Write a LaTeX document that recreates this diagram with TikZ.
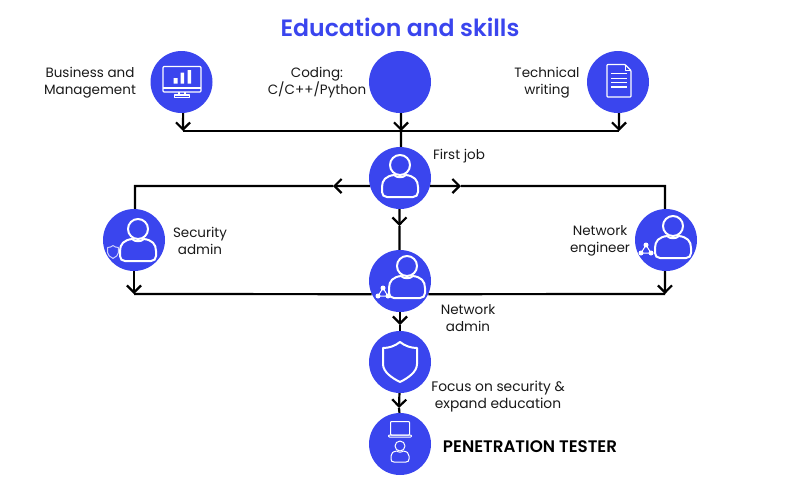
\documentclass[tikz,border=0pt]{standalone}
\usepackage{fontspec}
\setmainfont{Poppins}
\newfontface\semifont{Poppins SemiBold}
\usetikzlibrary{arrows.meta}
\definecolor{edublue}{HTML}{3A45EE}
\tikzset{
    >={Straight Barb[length=7pt,width=14pt]},
    disc/.style={circle,fill=edublue,minimum size=62pt,inner sep=0pt},
    wire/.style={line width=2.2pt,black},
    icon/.style={draw=white,line width=2pt,line join=round},
    thinicon/.style={draw=white,line width=1pt,line join=round},
    lbl/.style={align=center,font=\fontsize{13.5}{17}\selectfont,text=black!90,inner sep=0pt},
    person/.pic={
        \draw[icon] (0,-13) circle (10);
        \draw[icon] (-6,-3) .. controls (-14,-2) and (-18,2) .. (-18,9) -- (-18,14) .. controls (-18,17) and (-16,19) .. (-13,19) -- (13,19) .. controls (16,19) and (18,17) .. (18,14) -- (18,9) .. controls (18,2) and (14,-2) .. (6,-3) .. controls (3,0) and (-3,0) .. (-6,-3) -- cycle;
    },
    shield/.pic={
        \draw[pic actions] (0,-20) .. controls (-5,-16) and (-11,-14) .. (-17,-14) -- (-17,2) .. controls (-17,10) and (-8,16) .. (0,20) .. controls (8,16) and (17,10) .. (17,2) -- (17,-14) .. controls (11,-14) and (5,-16) .. (0,-20) -- cycle;
    },
    nettri/.pic={
        \draw[thinicon] (0,-5) -- (-5,3) -- (5,3) -- cycle;
        \fill[white] (0,-5) circle (2.5) (-5,3) circle (2.5) (5,3) circle (2.5);
    },
}
\begin{document}
\begin{tikzpicture}[x=1pt,y=-1pt]
    \useasboundingbox (0,0) rectangle (800,480);

    \node[font=\fontsize{23.6}{27}\semifont,text=edublue,inner sep=0pt] (title) at (400,27) {Education and skills};

    \node[disc] (biz) at (181.5,82) {};
    \node[disc] (coding) at (400,82) {};
    \node[disc] (tech) at (618,82) {};
    \node[disc] (first) at (400,178) {};
    \node[disc] (secadmin) at (134,240) {};
    \node[disc] (neteng) at (666,240) {};
    \node[disc] (netadmin) at (400,281) {};
    \node[disc] (focus) at (400,362) {};
    \node[disc] (pentest) at (400,444) {};

    \node[lbl] (bizlbl) at (90,83) {Business and\\Management};
    \node[lbl] (codinglbl) at (317,83) {Coding:\\C/C++/Python};
    \node[lbl] (techlbl) at (547,83) {Technical\\writing};
    \node[lbl] (firstlbl) at (459,156.5) {First job};
    \node[lbl] (seclbl) at (200,241) {Security\\admin};
    \node[lbl] (englbl) at (600,241) {Network\\engineer};
    \node[lbl] (adminlbl) at (468,318) {Network\\admin};
    \node[lbl,font=\fontsize{13.8}{17}\selectfont] (focuslbl) at (498,397) {Focus on security \&\\expand education};
    \node[lbl,font=\fontsize{16.7}{17}\semifont,text=black] (penlbl) at (530,446.5) {PENETRATION TESTER};

    \coordinate (bizjoin) at (183,131);
    \coordinate (codjoin) at (401,131);
    \coordinate (techjoin) at (619,131);
    \coordinate (leftcorner) at (135,186);
    \coordinate (rightcorner) at (665,186);
    \coordinate (lefttip) at (333,186);
    \coordinate (righttip) at (461,186);
    \coordinate (sectip) at (134,294);
    \coordinate (engtip) at (665,294);
    \coordinate (admintip) at (399.5,226);
    \coordinate (focustip) at (400,325);
    \coordinate (pentip) at (399,408);

    \draw[wire,->] (biz.-87) -- (bizjoin);
    \draw[wire,->] (coding.-88) -- (codjoin);
    \draw[wire,->] (tech.-88) -- (techjoin);
    \draw[wire] (bizjoin) -- (techjoin);
    \draw[wire] (codjoin) -- (first.88);

    \draw[wire,->] (first.195) -- (lefttip);
    \draw[wire,->] (first.-15) -- (righttip);
    \draw[wire] (lefttip) -- (leftcorner) -- (secadmin.88);
    \draw[wire] (righttip) -- (rightcorner) -- (neteng.92);

    \draw[wire,->] (secadmin.south) -- (sectip);
    \draw[wire,->] (neteng.-92) -- (engtip);
    \draw[wire] (sectip) -- (netadmin.205);
    \draw[wire] (engtip) -- (netadmin.-25);

    \draw[wire,->] (first.-91) -- (admintip);
    \draw[wire] (admintip) -- (netadmin.91);
    \draw[wire,->] (netadmin.south) -- (focustip);
    \draw[wire] (focustip) -- (focus.north);
    \draw[wire,->] (focus.-91) -- (pentip);
    \draw[wire] (pentip) -- (pentest.91);

    % monitor
    \draw[icon,line width=1.1pt,rounded corners=1pt] (163,66.5) rectangle (201,92);
    \draw[icon,line width=1.1pt] (163,88) -- (201,88) (179,92) -- (179,95) (185,92) -- (185,95);
    \draw[icon,line width=1.1pt] (174.5,95) rectangle (189.5,97.5);
    \fill[white] (173.5,78) rectangle (177.5,83.5) (180.5,72.5) rectangle (184,83.5) (187.5,70) rectangle (191,83.5);

    % document
    \draw[icon,line width=1.2pt,rounded corners=.8pt] (607,64.5) -- (625,64.5) -- (631,70.5) -- (631,97) -- (607,97) -- cycle;
    \draw[icon,line width=1pt] (625,64.5) -- (625,70.5) -- (631,70.5);
    \draw[white,line width=1.2pt] (611,73.5) -- (627,73.5) (611,78.5) -- (627,78.5) (611,82.5) -- (627,82.5) (611,87) -- (627,87);

    \pic at (400,178) {person};
    \pic at (138,242) {person};
    \pic at (673,239) {person};
    \pic at (407,279) {person};
    \pic[icon] at (400,362) {shield};
    \pic[thinicon,draw=white!75!edublue,scale=.32] at (113,252) {shield};
    \pic at (646,250) {nettri};
    \pic at (383,293) {nettri};

    % laptop
    \draw[thinicon,rounded corners=.8pt] (390.5,421.5) rectangle (409.5,435);
    \draw[thinicon,rounded corners=.8pt] (388.5,435) rectangle (411.5,437);
    \draw[thinicon] (400,446) circle (5);
    \draw[thinicon] (397,451) .. controls (393,451.5) and (391,453) .. (391,456) -- (391,459) .. controls (391,461) and (392,462) .. (394,462) -- (406,462) .. controls (408,462) and (409,461) .. (409,459) -- (409,456) .. controls (409,453) and (407,451.5) .. (403,451) .. controls (402,452.5) and (398,452.5) .. (397,451) -- cycle;
\end{tikzpicture}
\end{document}
